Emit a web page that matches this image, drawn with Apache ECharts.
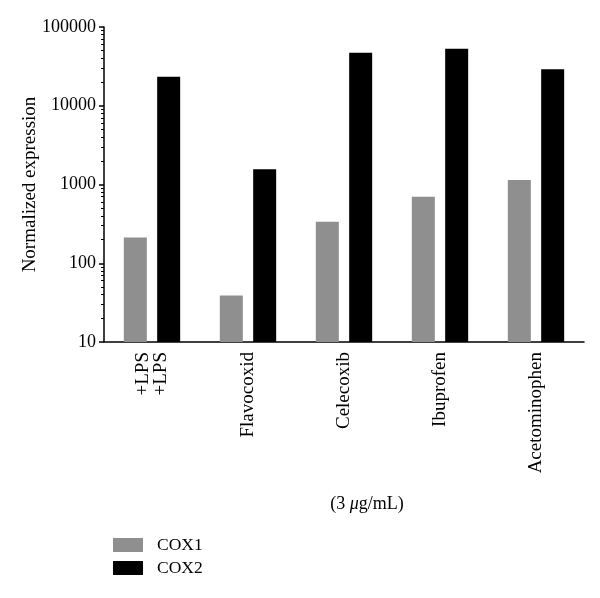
<!DOCTYPE html>
<html><head><meta charset="utf-8">
<script src="https://cdn.jsdelivr.net/npm/echarts@6/dist/echarts.min.js"></script>
<style>html,body{margin:0;padding:0;background:#fff}#c{width:600px;height:598px}</style>
</head><body><div id="c"></div>
<script>
const categories = ['+LPS\n+LPS', 'Flavocoxid', 'Celecoxib', 'Ibuprofen', 'Acetominophen'];
const cox1 = [213, 39, 337, 700, 1140];
const cox2 = [23400, 1560, 47200, 53000, 29000];
const seriesNames = ['COX1', 'COX2'];
const minorTickVals = [20,30,40,50,60,70,80,90,200,300,400,500,600,700,800,900,2000,3000,4000,5000,6000,7000,8000,9000,20000,30000,40000,50000,60000,70000,80000,90000];
const yName = 'Normalized expression';
const font = '"Liberation Serif", "Times New Roman", serif';

const chart = echarts.init(document.getElementById('c'), null, {renderer: 'canvas'});
chart.setOption({
  animation: false,
  backgroundColor: '#fff',
  textStyle: {fontFamily: font},
  title: {
    text: '(3 {i|μ}g/mL)',
    left: 362, top: 490, textAlign: 'center',
    textStyle: {fontFamily: font, fontSize: 18, fontWeight: 'normal', color: '#000',
      rich: {i: {fontFamily: font, fontSize: 18, fontStyle: 'italic', color: '#000'}}}
  },
  legend: {
    orient: 'vertical', left: 108, top: 531, itemWidth: 30, itemHeight: 14, itemGap: 5,
    icon: 'rect',
    textStyle: {fontFamily: font, fontSize: 17.5, lineHeight: 18, color: '#000', padding: [0, 0, 0, 9]},
    data: seriesNames
  },
  grid: {left: 104, right: 16, top: 27, bottom: 256, containLabel: false},
  xAxis: {
    type: 'category', data: categories,
    axisLine: {lineStyle: {color: '#000', width: 1.5}},
    axisTick: {show: false},
    axisLabel: {rotate: 90, margin: 10, fontFamily: font, fontSize: 19, color: '#000', lineHeight: 18}
  },
  yAxis: [{
    type: 'log', logBase: 10, min: 10, max: 100000,
    name: yName, nameLocation: 'middle', nameGap: 64, nameRotate: 90, nameMoveOverlap: false,
    nameTextStyle: {fontFamily: font, fontSize: 19, color: '#000'},
    axisLine: {show: true, lineStyle: {color: '#000', width: 1.5}},
    axisTick: {show: true, length: 5, lineStyle: {color: '#000', width: 1.5}},
    axisLabel: {fontFamily: font, fontSize: 18, color: '#000', margin: 8, formatter: v => String(v)},
    splitLine: {show: false}
  }, {
    type: 'log', logBase: 10, min: 10, max: 100000, position: 'left',
    axisLine: {show: false},
    axisTick: {show: true, length: 3, customValues: minorTickVals, lineStyle: {color: '#000', width: 1}},
    axisLabel: {show: false},
    splitLine: {show: false}
  }],
  series: [{
    name: seriesNames[0], type: 'bar', data: cox1, barWidth: 23, barGap: '45%',
    itemStyle: {color: '#8f8f8f'}
  }, {
    name: seriesNames[1], type: 'bar', data: cox2, barWidth: 23, barGap: '45%',
    itemStyle: {color: '#000'}
  }]
});
</script></body></html>
